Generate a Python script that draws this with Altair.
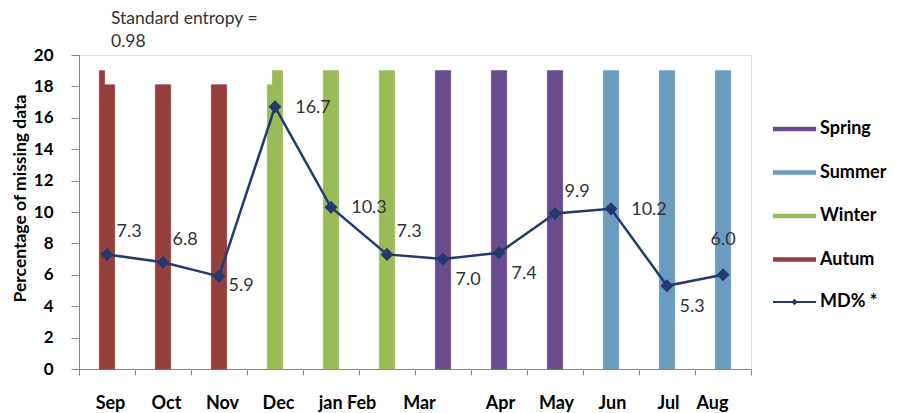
import altair as alt
import pandas as pd

# ---- data ----
months = ["Sep", "Oct", "Nov", "Dec", "Jan", "Feb", "Mar", "Apr", "May", "Jun", "Jul", "Aug"]
tick_labels = ["Sep", "Oct", "Nov", "Dec", "jan Feb", "", "Mar", "Apr", "May", "Jun", "Jul", "Aug"]
seasons = ["Autum", "Autum", "Autum", "Winter", "Winter", "Winter",
           "Spring", "Spring", "Spring", "Summer", "Summer", "Summer"]
bar_left = [19.0, 18.1, 18.1, 18.1, 19.0, 19.0, 19.0, 19.0, 19.0, 19.0, 19.0, 19.0]
bar_right = [18.1, 18.1, 18.1, 19.0, 19.0, 19.0, 19.0, 19.0, 19.0, 19.0, 19.0, 19.0]
md_pct = [7.3, 6.8, 5.9, 16.7, 10.3, 7.3, 7.0, 7.4, 9.9, 10.2, 5.3, 6.0]
label_side = ["ur", "ur", "lr", "r", "r", "ur", "dr", "dr", "ur", "r", "dr", "u"]
y_ticks = [0, 2, 4, 6, 8, 10, 12, 14, 16, 18, 20]
season_order = ["Spring", "Summer", "Winter", "Autum"]
season_colors = ["#664C8C", "#6A9CC0", "#9BBB59", "#943F3D"]
series_name = "MD% *"
parts = ["L", "R1", "R2"]
slots = ["p1", "p2", "p3", "L", "R1", "R2", "p4", "p5", "p6"]

NAVY = "#243A6E"
FONT = "Lato, sans-serif"

rows = []
for m, s, l, r in zip(months, seasons, bar_left, bar_right):
    for p in parts:
        rows.append({"month": m, "season": s, "part": p, "value": l if p == "L" else r})
bars_df = pd.DataFrame(rows)

md_df = pd.DataFrame({"month": months, "value": md_pct, "side": label_side,
                      "series": [series_name] * len(months)})

label_map = "{" + ",".join(f"'{m}':'{t}'" for m, t in zip(months, tick_labels)) + "}"

# horizontal nudges of the hand-placed month labels (style only)
label_nudge = {"Sep": 3, "Oct": 3, "Nov": 3, "Dec": 3, "Jan": 16, "Mar": -24, "Aug": -11}
label_offset = {
    "condition": [{"test": f"datum.value == '{k}'", "value": v} for k, v in label_nudge.items()],
    "value": 1,
}

x_axis = alt.Axis(
    title=None, labelExpr=f"{label_map}[datum.value]", tickBand="extent",
    labelAngle=0, labelFont=FONT, labelFontSize=18, labelFontWeight="bold",
    labelColor="black", labelPadding=19, tickSize=6, labelOffset=label_offset,
    domainColor="#868686", tickColor="#868686",
)
y_axis = alt.Axis(
    title="Percentage of missing data", values=y_ticks, tickCount=len(y_ticks),
    labelOverlap=False,
    labelFont=FONT, labelFontSize=17, labelFontWeight="bold", labelColor="black",
    labelPadding=18, tickSize=8, domainColor="#868686", tickColor="#868686",
    titleFont=FONT, titleFontSize=17.5, titleFontWeight="bold", titleColor="black",
    titleX=-50, titleY=143, grid=False,
)
x_scale = alt.Scale(domain=months, paddingInner=0, paddingOuter=0)
y_scale = alt.Scale(domain=[0, 20], nice=False)


def xe():
    return alt.X("month:N", sort=months, scale=x_scale, axis=x_axis)


def ye():
    return alt.Y("value:Q", scale=y_scale, axis=y_axis)


color_scale = alt.Scale(domain=season_order, range=season_colors)

bars = alt.Chart(bars_df).mark_bar(strokeWidth=0.8).encode(
    x=xe(),
    xOffset=alt.XOffset("part:N", scale=alt.Scale(domain=slots, paddingInner=0, paddingOuter=1)),
    y=ye(),
    stroke=alt.Stroke("season:N", scale=color_scale, legend=None),
    color=alt.Color(
        "season:N",
        scale=color_scale,
        legend=alt.Legend(
            title=None, orient="none", legendX=705.5, legendY=64, direction="vertical",
            symbolType="M-2.15,-0.22H2.15V0.22H-2.15Z", symbolSize=400, symbolStrokeWidth=0,
            symbolOpacity=1, labelFont=FONT, labelFontSize=18, labelFontWeight="bold",
            labelColor="black", labelOffset=15.5, rowPadding=24.5, padding=0,
        ),
    ),
)

line = alt.Chart(md_df).mark_line(color=NAVY, strokeWidth=2.5).encode(x=xe(), y=ye())

points = alt.Chart(md_df).mark_point(shape="diamond", filled=True, size=170, opacity=1).encode(
    x=xe(),
    y=ye(),
    fill=alt.Fill(
        "series:N",
        scale=alt.Scale(domain=[series_name], range=[NAVY]),
        legend=alt.Legend(
            title=None, orient="none", legendX=705.5, legendY=237,
            symbolType="M-2.15,-0.1H2.15V0.1H-2.15ZM0,-0.32L0.32,0L0,0.32L-0.32,0Z",
            symbolSize=400, symbolStrokeWidth=0, symbolOpacity=1,
            labelFont=FONT, labelFontSize=18, labelFontWeight="bold",
            labelColor="black", labelOffset=15.5, padding=0,
        ),
    ),
)

offsets = {"ur": (22, -22), "r": (38, 1), "dr": (25, 21), "lr": (22, 10), "u": (0, -35)}
text_layers = []
for side, (ddx, ddy) in offsets.items():
    text_layers.append(
        alt.Chart(md_df).transform_filter(alt.datum.side == side).mark_text(
            dx=ddx, dy=ddy, font=FONT, fontSize=18, color="#333333",
            align="center", baseline="middle",
        ).encode(
            x=xe(),
            y=ye(),
            text=alt.Text("value:Q", format=".1f"),
        )
    )

chart = alt.layer(bars, line, points, *text_layers).properties(
    width=672,
    height=314,
    autosize=alt.AutoSizeParams(type="none"),
    padding={"left": 71, "top": 47, "right": 140, "bottom": 44},
    title=alt.TitleParams(
        text=["Standard entropy =", "0.98"], anchor="start", frame="group", dx=32, dy=25,
        offset=3, baseline="bottom", font=FONT, fontSize=17.5, fontWeight="normal",
        color="#333333", lineHeight=23,
    ),
).configure_view(stroke=None).configure(background="white")

chart.save("out.html", embed_options={"renderer": "svg", "actions": False})
